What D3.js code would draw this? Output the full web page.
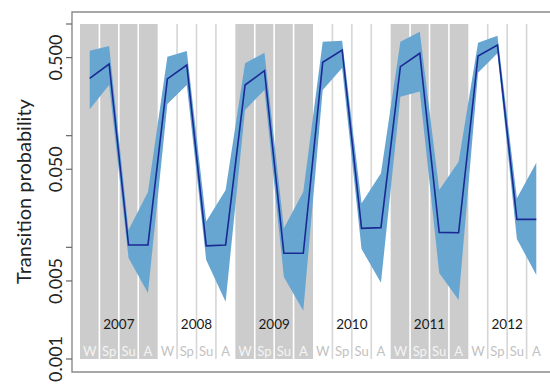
<!DOCTYPE html>
<html><head><meta charset="utf-8">
<script src="https://cdn.jsdelivr.net/npm/d3@7"></script>
<style>body{margin:0;background:#fff} svg{display:block}</style>
</head><body><svg id="c" width="550" height="386"></svg>
<script>
const years = ["2007","2008","2009","2010","2011","2012"];
const seasons = ["W","Sp","Su","A"];
const shadedYears = ["2007","2009","2011"];
const estimate = [0.326,0.438,0.0105,0.0105, 0.322,0.429,0.0103,0.0105, 0.284,0.382,0.00884,0.00884, 0.454,0.585,0.0148,0.0150, 0.415,0.547,0.0136,0.0135, 0.517,0.649,0.0178,0.0178];
const upper = [0.577,0.635,0.0143,0.0313, 0.510,0.573,0.0170,0.0326, 0.445,0.553,0.0148,0.0315, 0.694,0.709,0.0248,0.0460, 0.694,0.853,0.0326,0.0585, 0.680,0.786,0.0275,0.0573];
const lower = [0.172,0.284,0.00803,0.00390, 0.192,0.284,0.00770,0.00326, 0.170,0.256,0.00543,0.00271, 0.256,0.404,0.00966,0.00483, 0.223,0.248,0.00589,0.00338, 0.366,0.547,0.0119,0.00565];
const tickValues = [1,0.5,0.1,0.05,0.01,0.005,0.001];
const tickLabels = ["","0.500","","0.050","","0.005","0.001"];

const svg = d3.select("#c");
const nCols = years.length*seasons.length;
const x = d3.scaleLinear().domain([0,nCols]).range([80,546]);
const y = d3.scaleLog().domain([0.001,1]).range([359,24]);
const font = "Lato, 'Open Sans', sans-serif";

// shaded years
svg.append("g").selectAll("rect").data(years.filter(d=>shadedYears.includes(d))).join("rect")
  .attr("x", d=>x(years.indexOf(d)*4)).attr("width", d=>x(years.indexOf(d)*4+4)-x(years.indexOf(d)*4))
  .attr("y", y(1)).attr("height", y(0.001)-y(1)).attr("fill","#cccccc");

// column separators
const seps = [];
years.forEach((yr,i)=>{ for(let k=1;k<4;k++) seps.push({pos:i*4+k, shaded:shadedYears.includes(yr)}); });
svg.append("g").selectAll("line").data(seps).join("line")
  .attr("x1",d=>x(d.pos)).attr("x2",d=>x(d.pos)).attr("y1",y(1)).attr("y2",y(0.001))
  .attr("stroke",d=>d.shaded?"#ffffff":"#d6d6d6").attr("stroke-width",1.6);

// season labels
const cols = [];
years.forEach((yr,i)=>seasons.forEach((s,k)=>cols.push({i:i*4+k, s, shaded:shadedYears.includes(yr)})));
svg.append("g").selectAll("text").data(cols).join("text")
  .attr("x",d=>x(d.i+0.5)).attr("y",356).attr("text-anchor","middle")
  .attr("font-family",font).attr("font-size",13)
  .attr("fill",d=>d.shaded?"#f4f4f4":"#c2c2c2").text(d=>d.s);

// year labels
svg.append("g").selectAll("text").data(years).join("text")
  .attr("x",(d,i)=>x(i*4+2)).attr("y",329).attr("text-anchor","middle")
  .attr("font-family",font).attr("font-size",13.5).attr("fill","#1a1a1a").text(d=>d);

// band and line
const pts = estimate.map((v,i)=>({i, v, lo:lower[i], hi:upper[i]}));
svg.append("path").datum(pts)
  .attr("d", d3.area().x(d=>x(d.i+0.5)).y0(d=>y(d.lo)).y1(d=>y(d.hi)))
  .attr("fill","#68a6d2");
svg.append("path").datum(pts)
  .attr("d", d3.line().x(d=>x(d.i+0.5)).y(d=>y(d.v)))
  .attr("fill","none").attr("stroke","#1a2a94").attr("stroke-width",1.6);

// frame
svg.append("path").attr("d","M555,12H72V372H555").attr("fill","none").attr("stroke","#8a8a8a").attr("stroke-width",1.4);

// y ticks
const yt = svg.append("g");
yt.selectAll("line").data(tickValues).join("line")
  .attr("x1",66).attr("x2",72).attr("y1",d=>y(d)).attr("y2",d=>y(d))
  .attr("stroke","#666").attr("stroke-width",1.2);
yt.selectAll("text").data(tickValues).join("text")
  .attr("transform",d=>`translate(62,${y(d)}) rotate(-90)`).attr("text-anchor","middle")
  .attr("font-family",font).attr("font-size",18).attr("fill","#222")
  .text((d,i)=>tickLabels[i]);

svg.append("text").attr("transform",`translate(31,${(y(1)+y(0.001))/2}) rotate(-90)`)
  .attr("text-anchor","middle").attr("font-family",font).attr("font-size",20).attr("fill","#222")
  .text("Transition probability");
</script></body></html>
